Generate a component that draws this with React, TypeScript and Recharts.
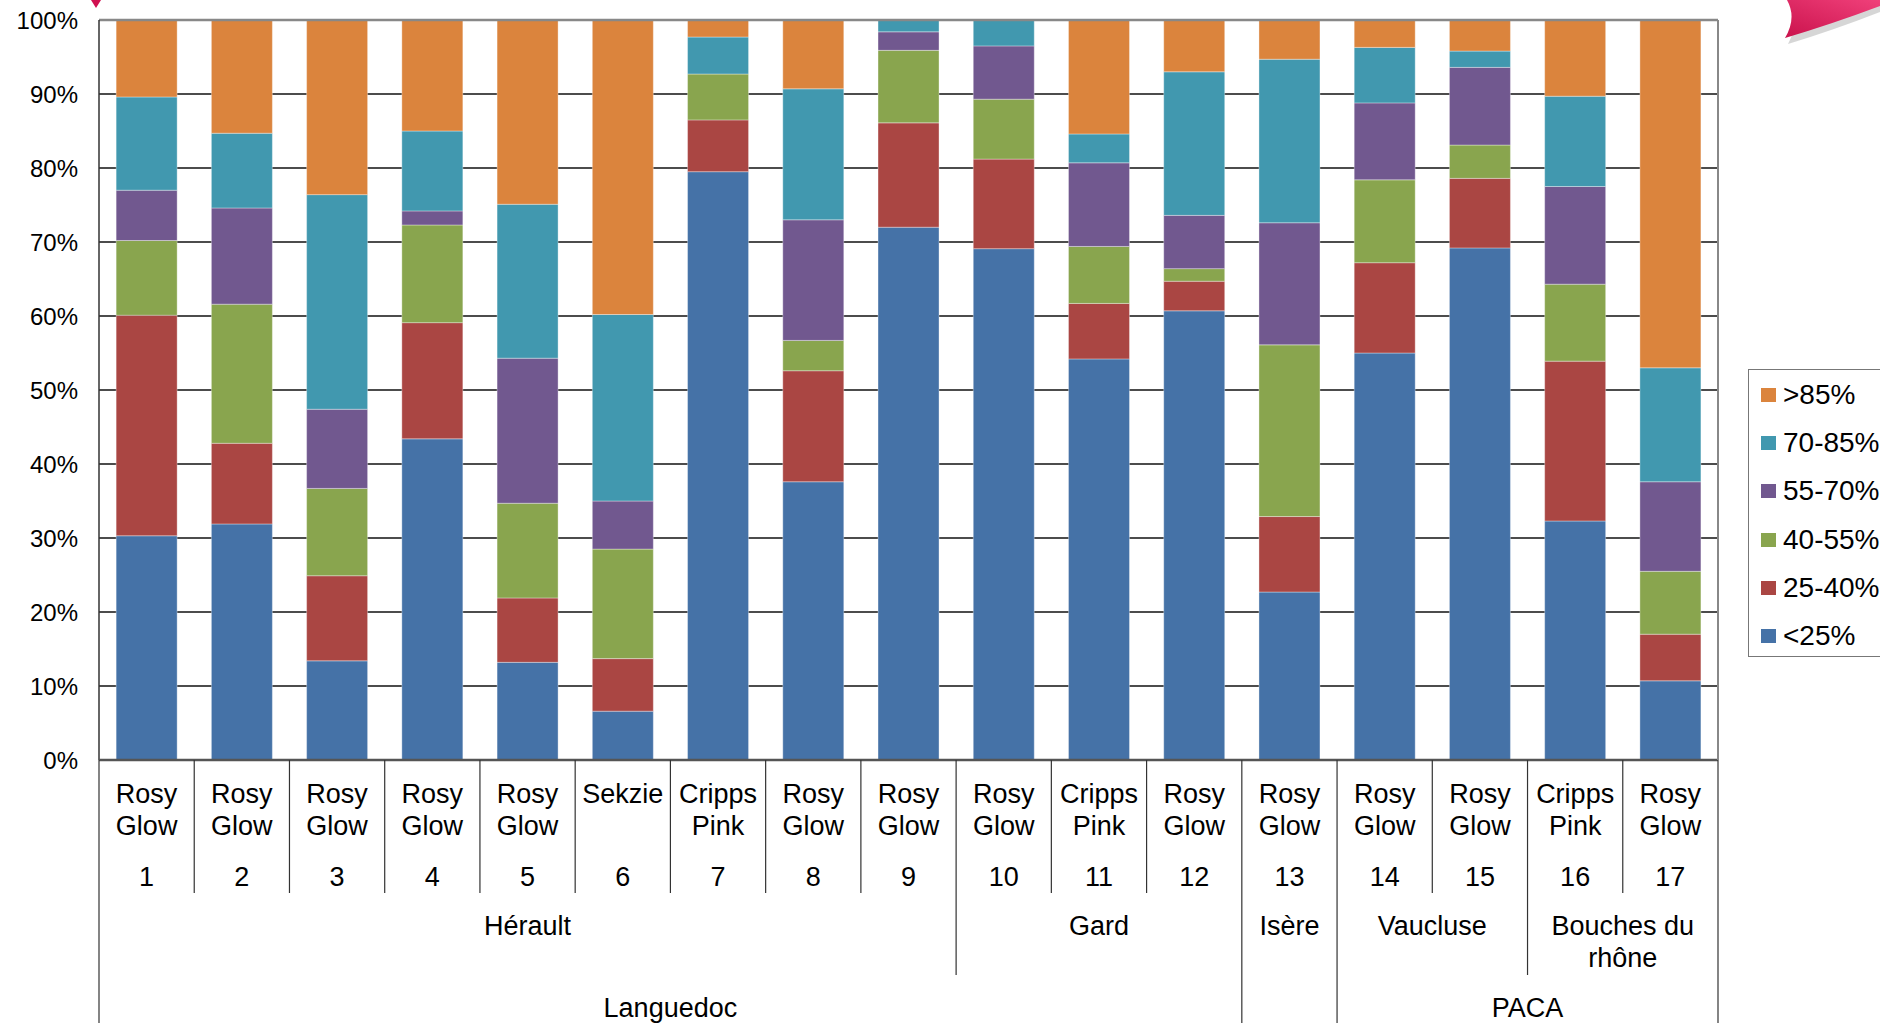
import React from "react";
import {
  BarChart,
  Bar,
  XAxis,
  YAxis,
  CartesianGrid,
  Legend,
  ReferenceLine,
} from "recharts";

const varieties = [
  "Rosy Glow", "Rosy Glow", "Rosy Glow", "Rosy Glow", "Rosy Glow", "Sekzie",
  "Cripps Pink", "Rosy Glow", "Rosy Glow", "Rosy Glow", "Cripps Pink", "Rosy Glow",
  "Rosy Glow", "Rosy Glow", "Rosy Glow", "Cripps Pink", "Rosy Glow",
];
const plotIds = ["1", "2", "3", "4", "5", "6", "7", "8", "9", "10", "11", "12", "13", "14", "15", "16", "17"];
const departments = [
  "Hérault", "Hérault", "Hérault", "Hérault", "Hérault", "Hérault", "Hérault", "Hérault", "Hérault",
  "Gard", "Gard", "Gard", "Isère", "Vaucluse", "Vaucluse", "Bouches du rhône", "Bouches du rhône",
];
const regions = [
  "Languedoc", "Languedoc", "Languedoc", "Languedoc", "Languedoc", "Languedoc",
  "Languedoc", "Languedoc", "Languedoc", "Languedoc", "Languedoc", "Languedoc",
  "", "PACA", "PACA", "PACA", "PACA",
];

// share of fruits per colour class (%)
const lt25 = [30.3, 31.9, 13.4, 43.4, 13.2, 6.6, 79.5, 37.6, 72.0, 69.1, 54.2, 60.7, 22.7, 55.0, 69.2, 32.3, 10.7];
const c25to40 = [29.8, 10.9, 11.5, 15.7, 8.7, 7.1, 7.0, 15.0, 14.1, 12.1, 7.5, 4.0, 10.2, 12.2, 9.4, 21.6, 6.3];
const c40to55 = [10.1, 18.8, 11.8, 13.2, 12.8, 14.8, 6.2, 4.1, 9.8, 8.1, 7.7, 1.7, 23.2, 11.2, 4.5, 10.4, 8.5];
const c55to70 = [6.8, 13.0, 10.7, 1.9, 19.6, 6.5, 0, 16.3, 2.5, 7.2, 11.3, 7.2, 16.5, 10.4, 10.5, 13.2, 12.1];
const c70to85 = [12.6, 10.1, 29.0, 10.8, 20.8, 25.2, 5.0, 17.7, 1.6, 3.5, 3.9, 19.4, 22.1, 7.5, 2.2, 12.2, 15.4];
const gt85 = [10.4, 15.3, 23.6, 15.0, 24.9, 39.8, 2.3, 9.3, 0, 0, 15.4, 7.0, 5.3, 3.7, 4.2, 10.3, 47.0];

const yTicks = [0, 10, 20, 30, 40, 50, 60, 70, 80, 90, 100];

const SERIES = [
  { key: "lt25", name: "<25%", color: "#4572A7" },
  { key: "c25to40", name: "25-40%", color: "#AA4643" },
  { key: "c40to55", name: "40-55%", color: "#89A54E" },
  { key: "c55to70", name: "55-70%", color: "#71588F" },
  { key: "c70to85", name: "70-85%", color: "#4198AF" },
  { key: "gt85", name: ">85%", color: "#DB843D" },
];

const data = plotIds.map((id, i) => ({
  id,
  lt25: lt25[i],
  c25to40: c25to40[i],
  c40to55: c40to55[i],
  c55to70: c55to70[i],
  c70to85: c70to85[i],
  gt85: gt85[i],
}));

const W = 1880;
const H = 1023;
const PLOT_LEFT = 99;
const PLOT_RIGHT = 1718;
const PLOT_TOP = 20;
const PLOT_BOTTOM = 760;
const BAND = (PLOT_RIGHT - PLOT_LEFT) / plotIds.length;
const FONT = "'Liberation Sans', Arial, sans-serif";
const LINE = "#333";

// length of the run of equal labels starting at i (null if i is inside a run)
const runAt = (labels: string[], i: number) => {
  if (i > 0 && labels[i - 1] === labels[i]) return null;
  let n = 1;
  while (i + n < labels.length && labels[i + n] === labels[i]) n++;
  return n;
};

const wrap = (text: string, maxChars: number) => {
  const words = text.split(" ");
  const lines: string[] = [];
  let cur = "";
  words.forEach((w) => {
    const next = cur ? cur + " " + w : w;
    if (next.length > maxChars && cur) {
      lines.push(cur);
      cur = w;
    } else cur = next;
  });
  if (cur) lines.push(cur);
  return lines;
};

function CategoryTick(props: any) {
  const { x, index } = props;
  const left = x - BAND / 2;
  const right = x + BAND / 2;
  const last = index === plotIds.length - 1;
  const words = varieties[index].split(" ");
  const depRun = runAt(departments, index);
  const regRun = runAt(regions, index);
  const txt = { fontFamily: FONT, fontSize: 27, fill: "#000", textAnchor: "middle" as const };

  return (
    <g>
      {/* separators: category, department and region levels */}
      <line x1={left} x2={left} y1={PLOT_BOTTOM} y2={index === 0 ? H : depRun ? (regRun ? H : 975) : 893} stroke={LINE} strokeWidth={1.2} />
      {last && <line x1={right} x2={right} y1={PLOT_TOP} y2={PLOT_BOTTOM} stroke="#888" strokeWidth={2} />}
      {last && <line x1={right} x2={right} y1={PLOT_BOTTOM} y2={H} stroke={LINE} strokeWidth={1.2} />}
      {words.map((w, k) => (
        <text key={k} x={x} y={803 + k * 32} {...txt}>{w}</text>
      ))}
      <text x={x} y={886} {...txt}>{plotIds[index]}</text>
      {depRun &&
        wrap(departments[index], Math.floor((depRun * BAND) / 13.5)).map((l, k) => (
          <text key={"d" + k} x={left + (depRun * BAND) / 2} y={935 + k * 32} {...txt}>{l}</text>
        ))}
      {regRun && regions[index] && (
        <text x={left + (regRun * BAND) / 2} y={1017} {...txt}>{regions[index]}</text>
      )}
    </g>
  );
}

function LegendBox() {
  const items = [...SERIES].reverse();
  return (
    <div
      style={{
        position: "absolute",
        left: 1748,
        top: 369,
        width: 200,
        height: 288,
        border: "1.5px solid #777",
        background: "#fff",
        boxSizing: "border-box",
        fontFamily: FONT,
        fontSize: 28,
        color: "#000",
      }}
    >
      {items.map((s, i) => (
        <div key={s.key} style={{ position: "absolute", left: 12, top: 8 + i * 48.2, height: 34, display: "flex", alignItems: "center" }}>
          <span style={{ width: 15, height: 14, background: s.color, display: "inline-block", marginRight: 7 }} />
          <span>{s.name}</span>
        </div>
      ))}
    </div>
  );
}

export default function App() {
  return (
    <div style={{ position: "absolute", left: 0, top: 0, width: W, height: H, overflow: "hidden", background: "#fff" }}>
      <BarChart
        width={W}
        height={H}
        data={data}
        margin={{ top: PLOT_TOP, right: W - PLOT_RIGHT, bottom: 0, left: 0 }}
        barCategoryGap="18%"
      >
        <CartesianGrid vertical={false} stroke="#111" strokeWidth={1.4} />
        <YAxis
          width={PLOT_LEFT}
          domain={[0, 100]}
          ticks={yTicks}
          allowDataOverflow
          tickFormatter={(v) => `${v}%`}
          tickLine={false}
          tickSize={0}
          tickMargin={21}
          axisLine={{ stroke: "#333", strokeWidth: 1.5 }}
          tick={{ fontFamily: FONT, fontSize: 24, fill: "#000" }}
        />
        <XAxis
          dataKey="id"
          height={H - PLOT_BOTTOM}
          interval={0}
          tickLine={false}
          axisLine={{ stroke: "#555", strokeWidth: 2.5 }}
          tick={<CategoryTick />}
        />
        <ReferenceLine y={100} stroke="#888" strokeWidth={2.5} />
        {SERIES.map((s) => (
          <Bar
            key={s.key}
            dataKey={s.key}
            name={s.name}
            stackId="a"
            fill={s.color}
            stroke="#fff"
            strokeOpacity={0.35}
            strokeWidth={1}
            isAnimationActive={false}
          />
        ))}
        <Legend content={() => null} />
      </BarChart>
      <LegendBox />
      <svg style={{ position: "absolute", left: 0, top: 0 }} width={W} height={H} pointerEvents="none">
        <defs>
          <linearGradient id="pink" x1="0" y1="1" x2="1" y2="0">
            <stop offset="0%" stopColor="#c8104a" />
            <stop offset="100%" stopColor="#f0407a" />
          </linearGradient>
        </defs>
        <path d="M1776,0 L1880,0 L1880,12 Q1834,30 1788,44 Q1800,22 1790,0 Z" fill="#bbb" opacity={0.6} />
        <path d="M1774,0 L1880,0 L1880,6 Q1832,24 1785,38 Q1797,18 1787,0 Z" fill="url(#pink)" />
        <path d="M91,0 L101,0 L96,8 Z" fill="#d01050" />
      </svg>
    </div>
  );
}
